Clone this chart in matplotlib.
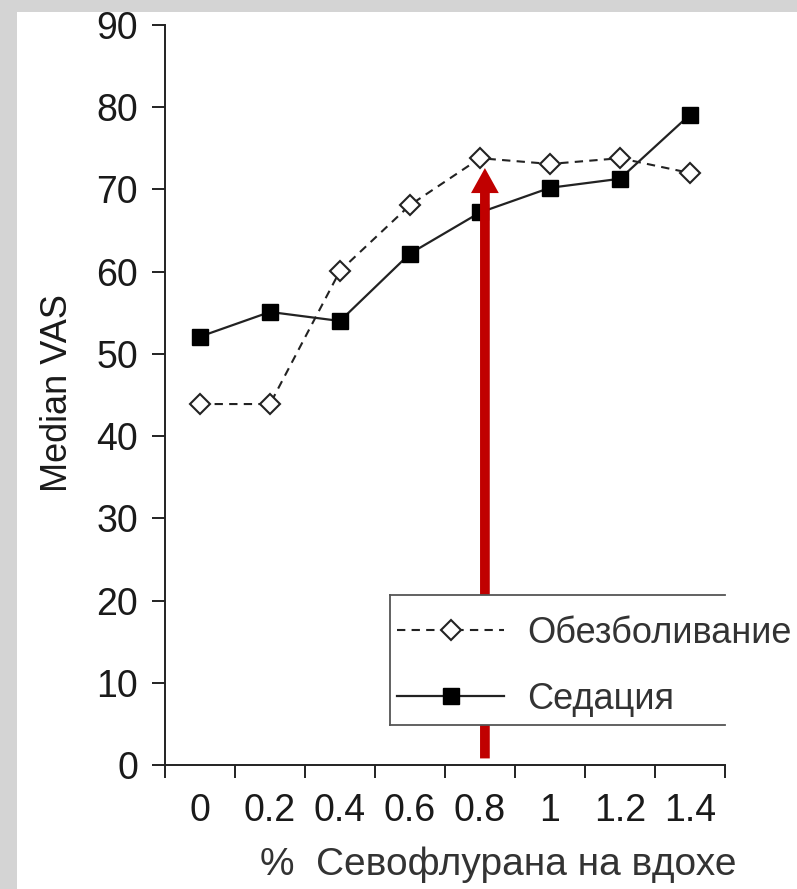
import matplotlib.pyplot as plt
from matplotlib.patches import Rectangle
from matplotlib.lines import Line2D

plt.rcParams['font.family'] = ['Liberation Sans', 'DejaVu Sans']

# data
doses = ['0', '0.2', '0.4', '0.6', '0.8', '1', '1.2', '1.4']
analgesia = [43.9, 43.9, 60.1, 68.1, 73.8, 73.1, 73.8, 72.0]
sedation = [52.1, 55.1, 54.0, 62.2, 67.2, 70.2, 71.3, 79.1]
labels = ['Обезболивание', 'Седация']
arrow_x = 4.07
arrow_top = 72.6

fig = plt.figure(figsize=(7.97, 8.89), dpi=100, facecolor='#d4d4d4')
# white "screenshot" page on the grey background
page = Rectangle((17 / 797, 0), 1, 1 - 12 / 889, transform=fig.transFigure,
                 facecolor='white', edgecolor='none', zorder=-10)
fig.add_artist(page)

ax = fig.add_axes([165 / 797, 1 - 765 / 889, 560 / 797, 740 / 889])
ax.patch.set_alpha(0)

x = list(range(len(doses)))
ax.plot(x, analgesia, linestyle=(0, (4, 3)), color='#222222', lw=1.5,
        marker='D', markersize=10, markerfacecolor='white', markeredgecolor='#222222',
        markeredgewidth=1.5, label=labels[0], zorder=2)
ax.plot(x, sedation, linestyle='-', color='#222222', lw=1.6,
        marker='s', markersize=12, markerfacecolor='black', markeredgecolor='black',
        label=labels[1], zorder=2)

ax.annotate('', xy=(arrow_x, arrow_top), xytext=(arrow_x, 0.8),
            arrowprops=dict(facecolor='#c00000', edgecolor='none', width=7,
                            headwidth=20, headlength=18, shrink=0), zorder=3)

ax.set_xlim(-0.5, 7.5)
ax.set_ylim(0, 90)
ax.set_yticks(range(0, 91, 10))
ax.set_xticks(x)
ax.set_xticklabels(doses)
ax.set_xticks([i - 0.5 for i in range(len(doses) + 1)], minor=True)
ax.tick_params(axis='x', which='major', length=0, pad=20, labelsize=27, labelcolor='#1a1a1a')
ax.tick_params(axis='x', which='minor', length=9.5, width=1.4, direction='out', color='#222222')
ax.tick_params(axis='y', length=9.5, width=1.4, pad=10, labelsize=27, labelcolor='#1a1a1a',
               color='#222222')

for s in ['top', 'right']:
    ax.spines[s].set_visible(False)
for s in ['left', 'bottom']:
    ax.spines[s].set_linewidth(1.4)
    ax.spines[s].set_color('#222222')

ax.set_ylabel('Median VAS', fontsize=26, color='#1a1a1a')
ax.yaxis.set_label_coords(-0.161, 0.503)
ax.set_xlabel('%  Севофлурана на вдохе', fontsize=28, color='#333333')
ax.xaxis.set_label_coords(0.595, -0.11)

# legend box: white, open on the right side
bx0, by0, bx1, by1 = 0.402, 0.054, 1.0, 0.23
ax.add_patch(Rectangle((bx0, by0), bx1 - bx0, by1 - by0, transform=ax.transAxes,
                       facecolor='white', edgecolor='none', zorder=4, clip_on=False))
for xs, ys in [([bx0, bx1], [by1, by1]), ([bx0, bx0], [by0, by1]), ([bx0, bx1], [by0, by0])]:
    ax.add_line(Line2D(xs, ys, transform=ax.transAxes, color='#555555', lw=1.3,
                       zorder=4.5, clip_on=False))

leg = ax.legend(loc='upper left', bbox_to_anchor=(0.395, 0.216), frameon=False,
                fontsize=26, handlelength=2.97, handletextpad=0.64, labelspacing=0.85,
                borderaxespad=0, borderpad=0.3)
leg.set_zorder(5)
for t in leg.get_texts():
    t.set_color('#333333')

fig.savefig('out.png', dpi=100, facecolor=fig.get_facecolor())
